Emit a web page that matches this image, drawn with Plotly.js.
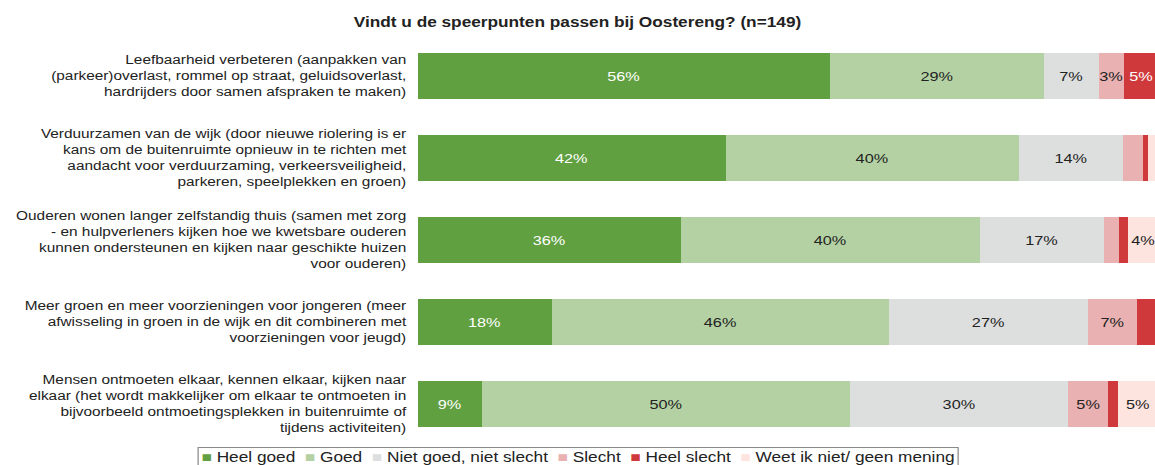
<!DOCTYPE html>
<html>
<head>
<meta charset="utf-8">
<script src="https://cdn.plot.ly/plotly-3.0.1.min.js"></script>
<style>
html,body{margin:0;padding:0;background:#fff;overflow:hidden;}
#wrap{width:1155px;height:465px;overflow:hidden;}
#chart{width:924px;height:465px;transform:scaleX(1.25);transform-origin:0 0;}
</style>
</head>
<body>
<div id="wrap"><div id="chart"></div></div>
<script>
var chartTitle = 'Vindt u de speerpunten passen bij Oostereng? (n=149)';
var categories = [
  'Leefbaarheid verbeteren (aanpakken van<br>(parkeer)overlast, rommel op straat, geluidsoverlast,<br>hardrijders door samen afspraken te maken)',
  'Verduurzamen van de wijk (door nieuwe riolering is er<br>kans om de buitenruimte opnieuw in te richten met<br>aandacht voor verduurzaming, verkeersveiligheid,<br>parkeren, speelplekken en groen)',
  'Ouderen wonen langer zelfstandig thuis (samen met zorg<br>- en hulpverleners kijken hoe we kwetsbare ouderen<br>kunnen ondersteunen en kijken naar geschikte huizen<br>voor ouderen)',
  'Meer groen en meer voorzieningen voor jongeren (meer<br>afwisseling in groen in de wijk en dit combineren met<br>voorzieningen voor jeugd)',
  'Mensen ontmoeten elkaar, kennen elkaar, kijken naar<br>elkaar (het wordt makkelijker om elkaar te ontmoeten in<br>bijvoorbeeld ontmoetingsplekken in buitenruimte of<br>tijdens activiteiten)'
];
var seriesNames = ['Heel goed', 'Goed', 'Niet goed, niet slecht', 'Slecht', 'Heel slecht', 'Weet ik niet/ geen mening'];
var heelGoed   = [55.7, 41.6, 35.6, 18.1, 8.7];
var goed       = [28.9, 39.6, 40.3, 45.6, 49.7];
var neutraal   = [7.4, 14.1, 16.8, 26.8, 29.5];
var slecht     = [3.4, 2.7, 2.0, 6.7, 5.4];
var heelSlecht = [4.7, 0.7, 1.3, 2.7, 1.3];
var weetNiet   = [0.0, 1.3, 4.0, 0.0, 5.4];

var seriesValues = [heelGoed, goed, neutraal, slecht, heelSlecht, weetNiet];
var colors = ['#61a041', '#b3d1a2', '#dddfde', '#e9b1b1', '#d0393c', '#fde4df'];
var textColors = ['#ffffff', '#222222', '#222222', '#222222', '#ffffff', '#222222'];
var FONT = 'Liberation Sans, Arial, sans-serif';

var traces = seriesValues.map(function(vals, i){
  return {
    type: 'bar',
    orientation: 'h',
    name: seriesNames[i],
    y: categories,
    x: vals,
    marker: {color: colors[i], line: {width: 0}},
    text: vals.map(function(v){ return v >= 3 ? Math.round(v) + '%' : ''; }),
    textposition: 'inside',
    insidetextanchor: 'middle',
    textangle: 0,
    constraintext: 'none',
    textfont: {family: FONT, size: 13, color: textColors[i]},
    showlegend: false,
    hoverinfo: 'name+x'
  };
});

// single-row legend, drawn as one boxed text line
var legendText = seriesNames.map(function(n, i){
  return '<span style="color:' + colors[i] + '">\u25A0</span>\u00a0' + n;
}).join('\u00a0\u00a0');

var layout = {
  width: 924, height: 465,
  barmode: 'stack',
  bargap: 0.43,
  margin: {l: 334, r: 0, t: 35, b: 20},
  paper_bgcolor: '#ffffff', plot_bgcolor: '#ffffff',
  font: {family: FONT, color: '#222222'},
  title: {text: '<b>' + chartTitle + '</b>', xref: 'container', x: 0.5, xanchor: 'center',
          yref: 'container', y: 0.953, yanchor: 'middle',
          font: {size: 13.8, color: '#222222', family: FONT}},
  xaxis: {range: [0, 99.6], showgrid: false, zeroline: false, showticklabels: false, ticks: '', showline: false, fixedrange: true},
  yaxis: {type: 'category', range: [4.5, -0.5], showgrid: false, zeroline: false, ticks: '', showline: false,
          ticklabelstandoff: 8, tickfont: {size: 12.3, color: '#222222'}, fixedrange: true},
  showlegend: false,
  annotations: [{
    text: legendText, showarrow: false,
    xref: 'paper', x: 0.218, xanchor: 'center',
    yref: 'paper', y: -0.03, yanchor: 'middle',
    font: {family: FONT, size: 13.8, color: '#222222'},
    bordercolor: '#8a8a8a', borderwidth: 1, borderpad: 2, bgcolor: '#ffffff'
  }]
};

Plotly.newPlot('chart', traces, layout, {displayModeBar: false, staticPlot: true});
</script>
</body>
</html>
